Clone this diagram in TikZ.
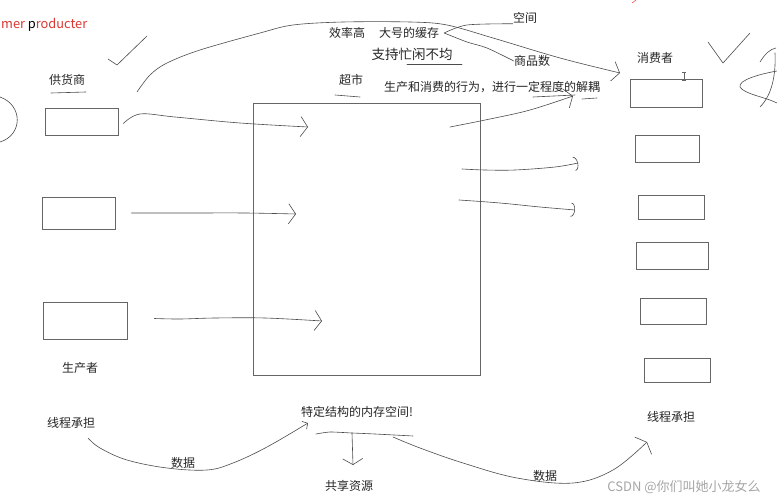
\documentclass[tikz,border=0pt]{standalone}
\usepackage{fontspec}
\setmainfont{Noto Sans CJK SC}
\usetikzlibrary{arrows.meta}

\tikzset{
  box/.style={draw=black!60, line width=0.8pt, inner sep=0pt},
  pen/.style={draw=black!70, line width=0.6pt, line cap=round, line join=round},
  barb/.style={-{Straight Barb[length=7pt,width=20pt]}},
  hook/.style={-{Arc Barb[length=4pt,width=14pt]}},
  txt/.style={inner sep=0pt, text=black!85, font=\fontsize{12}{14}\selectfont}
}

\begin{document}
\begin{tikzpicture}[x=1pt, y=-1pt]
\useasboundingbox[fill=white] (0,0) rectangle (777,500);

% watermark
\node[inner sep=0pt, text=black!35, font=\fontsize{13}{15}\selectfont] (csdn) at (684,487) {CSDN @你们叫她小龙女么};

% boxes
\node[box, minimum width=73pt, minimum height=27pt] (sup) at (81.5,121.5) {};
\node[box, minimum width=73pt, minimum height=32pt] (prodb) at (78.5,213) {};
\node[box, minimum width=84pt, minimum height=37pt] (prodc) at (85,320.5) {};
\node[box, minimum width=227pt, minimum height=272pt] (market) at (366.5,239) {};
\node[box, minimum width=72pt, minimum height=28pt] (cona) at (666,93) {};
\node[box, minimum width=64pt, minimum height=27pt] (conb) at (667,148.5) {};
\node[box, minimum width=66pt, minimum height=24pt] (conc) at (671,207) {};
\node[box, minimum width=72pt, minimum height=27pt] (cond) at (672,255.5) {};
\node[box, minimum width=66pt, minimum height=26pt] (cone) at (673,311) {};
\node[box, minimum width=66pt, minimum height=24pt] (conf) at (677,370) {};

% texts
\node[inner sep=0pt, anchor=west, font=\fontsize{12.8}{15}\selectfont] (title) at (1,25)
  {\textcolor[rgb]{0.86,0.22,0.2}{mer }p\textcolor[rgb]{0.86,0.22,0.2}{roducter}};
\node[txt] (supl) at (67,80) {供货商};
\node[txt] (eff) at (347,33) {效率高};
\node[txt] (cache) at (409,33) {大号的缓存};
\node[txt] (space) at (525,18) {空间};
\node[txt, font=\fontsize{13.5}{15}\selectfont] (busy) at (412,54) {支持忙闲不均};
\node[txt] (goods) at (532,61) {商品数};
\node[txt] (mkt) at (351,80) {超市};
\node[txt] (decouple) at (492,87) {生产和消费的行为，进行一定程度的解耦};
\node[txt] (conl) at (655,58) {消费者};
\node[txt] (prodl) at (80,368) {生产者};
\node[txt] (thrl) at (71,423) {线程承担};
\node[txt] (datal) at (183,463) {数据};
\node[txt] (mem) at (357,412) {特定结构的内存空间!};
\node[txt] (share) at (349,486) {共享资源};
\node[txt] (datar) at (545,476) {数据};
\node[txt] (thrr) at (671,417) {线程承担};

% free ends
\coordinate (inb) at (308,127);
\coordinate (inc) at (296,214);
\coordinate (ind) at (322,321);
\coordinate (outa) at (578,163);
\coordinate (outb) at (575,210);
\coordinate (tip) at (573,96);
\coordinate (memtip) at (308,423);
\coordinate (memdrop) at (353,465);

% producers into the market
\draw[pen, barb] plot[smooth, tension=0.6] coordinates
  {([xshift=5pt,yshift=-2pt]sup.east) (140,114) (175,117) (240,123) (inb)};
\draw[pen, barb] plot[smooth, tension=0.6] coordinates
  {([xshift=16pt]prodb.east) (190,213) (245,213) (inc)};
\draw[pen, barb] plot[smooth, tension=0.6] coordinates
  {([xshift=27pt,yshift=2pt]prodc.east) (180,319) (215,318) (265,318) (ind)};

% market out to consumers
\draw[pen, hook] plot[smooth, tension=0.6] coordinates
  {(462,169) (485,170) (515,170) (555,167) (outa)};
\draw[pen, hook] plot[smooth, tension=0.6] coordinates
  {(459,200) (500,203) (540,207) (outb)};

% decoupling
\draw[pen, barb] plot[smooth, tension=0.6] coordinates
  {(450,127) (490,119) (530,110) (tip)};
\draw[pen] (533,97) -- (575,95);
\draw[pen] (582,99) -- (597,98);

% long arc over the top
\draw[pen, barb] plot[smooth, tension=0.55] coordinates
  {(137,92) (150,75) (167,63) (200,50) (260,33) (293,25) (343,22)
   (410,22) (447,25) (493,38) (560,58) (620,73)};

% cache branches
\draw[pen] plot[smooth] coordinates {([xshift=5pt]cache.east) (467,25) (space.south west)};
\draw[pen] plot[smooth] coordinates {([xshift=5pt]cache.east) (467,42) (487,48) (goods.west)};

% underlines
\draw[pen] (51,93) -- (86,92);
\draw[pen] (407,64) -- (462,64);
\draw[pen] (335,95) -- (360,97);

% bottom: threads and shared memory
\draw[pen, -{Straight Barb[length=4pt,width=9pt]}] plot[smooth, tension=0.6] coordinates
  {(88,438) (100,448) (127,460) (167,468) (207,470) (233,463) (267,447) (memtip)};
\draw[pen] plot[smooth, tension=0.4] coordinates {(316,434) (330,432) (352,433) (375,434) (413,436)};
\draw[pen, -{Straight Barb[length=6pt,width=20pt]}] (352,433) -- (memdrop);
\draw[pen, -{Straight Barb[length=5pt,width=24pt]}] plot[smooth, tension=0.6] coordinates
  {(393,437) (420,448) (463,463) (517,478) (573,483) (613,470) (647,442)};

% scribbles
\draw[pen] (0,97) .. controls (23,105) and (23,135) .. (0,142);
\draw[pen] (108,59) -- (117,65) -- (147,36);
\draw[pen] (708,42) -- (723,63) -- (750,33);
\draw[pen] (760,62) .. controls (765,54) and (770,49) .. (776,48);
\draw[pen] (775,53) .. controls (776,75) and (772,95) .. (760,107);
\draw[pen] (777,71) .. controls (760,74) and (738,80) .. (740,87)
  .. controls (744,94) and (765,97) .. (777,103);
\draw[black!60, line width=0.6pt] (684,72) -- (684,80) (682,72) -- (686,72) (682,80) -- (686,80);
\draw[red!80, line width=0.5pt] (632,3) -- (636,0);
\end{tikzpicture}
\end{document}
